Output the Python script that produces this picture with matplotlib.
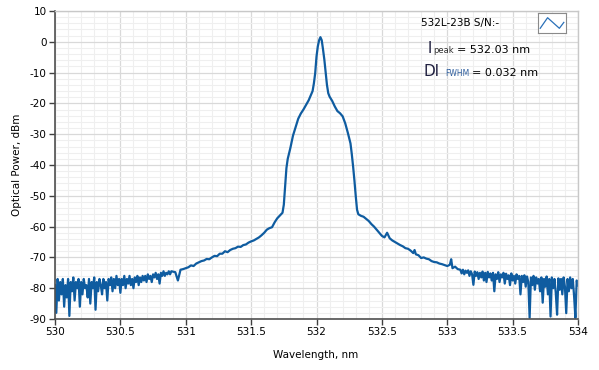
import numpy as np
import matplotlib.pyplot as plt
from matplotlib.ticker import MultipleLocator

plt.rcParams['axes.unicode_minus'] = False

# noisy wings, 0.01 nm step
left_start = 530.00
left_noise = [
    -79, -88, -77, -84, -78, -82, -77, -86, -79, -83,
    -77, -89, -78, -81, -76.5, -84, -78, -80, -77, -86,
    -78, -82, -77, -80, -79, -83, -77, -85, -78, -80,
    -76.5, -87, -78, -81, -77, -79, -82, -77, -80, -78,
    -84, -77, -79, -76.5, -81, -77, -80, -76, -79, -77,
    -81.5, -77, -79, -76, -80, -77, -78.5, -76, -79, -77,
    -80, -76.5, -78, -76, -79, -76.5, -78, -76, -77.5, -76,
    -78, -75.5, -77, -76, -78, -75.5, -76.5, -75, -77, -75.5,
    -78.5, -75, -76, -74.5, -76, -75, -75.5, -74.5, -75.5, -74.5,
    -75,
]

right_start = 533.10
right_noise = [
    -74.0, -75.2, -74.0, -75.5, -74.3, -75.0, -74.2, -76.0, -74.5, -75.5,
    -78.9, -74.6, -76.0, -74.8, -77.0, -75.0, -76.5, -74.6, -77.5, -75.0,
    -78.0, -74.7, -76.5, -75.2, -77.5, -75.0, -81.0, -75.5, -77.0, -74.8,
    -78.0, -75.5, -76.5, -75.0, -78.5, -75.3, -77.0, -75.8, -79.0, -75.2,
    -77.5, -76.0, -78.5, -75.5, -77.0, -76.0, -82.0, -76.0, -78.0, -75.8,
    -79.5, -76.2, -78.0, -89.6, -76.5, -79.0, -76.0, -80.5, -76.5, -78.5,
    -77.0, -81.0, -76.5, -84.7, -77.0, -79.5, -76.2, -82.0, -77.0, -89.2,
    -76.5, -80.0, -77.0, -81.5, -88.6, -76.8, -80.5, -77.0, -82.0, -76.5,
    -79.5, -88.1, -77.0, -81.0, -76.5, -80.0, -77.0, -82.5, -89.6, -77.5,
    -79.0,
]

# central part (wavelength, power)
center_wl = [
    530.92, 530.94, 530.96, 530.98, 531.00, 531.02, 531.04, 531.06, 531.08, 531.10,
    531.12, 531.14, 531.16, 531.18, 531.20, 531.22, 531.24, 531.26, 531.28, 531.30,
    531.32, 531.34, 531.36, 531.38, 531.40, 531.42, 531.44, 531.46, 531.48, 531.50,
    531.52, 531.54, 531.56, 531.58, 531.60, 531.62, 531.64, 531.66, 531.68, 531.70,
    531.72, 531.74, 531.75, 531.76, 531.77, 531.78, 531.80, 531.82, 531.84, 531.86,
    531.88, 531.90, 531.92, 531.94, 531.96, 531.97, 531.98, 531.99, 532.00, 532.01,
    532.02, 532.03, 532.04, 532.05, 532.06, 532.07, 532.08, 532.09, 532.10, 532.12,
    532.14, 532.16, 532.18, 532.20, 532.22, 532.24, 532.26, 532.27, 532.28, 532.29,
    532.30, 532.31, 532.32, 532.34, 532.36, 532.38, 532.40, 532.42, 532.44, 532.46,
    532.48, 532.50, 532.52, 532.54, 532.56, 532.58, 532.60, 532.62, 532.64, 532.66,
    532.68, 532.70, 532.72, 532.74, 532.75, 532.76, 532.78, 532.80, 532.82, 532.84,
    532.86, 532.88, 532.90, 532.92, 532.94, 532.96, 532.98, 533.00, 533.02, 533.03,
    533.04, 533.06, 533.08,
]
center_db = [
    -74.8, -77.5, -74.0, -73.8, -73.5, -73.2, -72.6, -72.8, -72.0, -71.6,
    -71.2, -71.0, -70.5, -70.6, -70.0, -69.5, -69.6, -68.8, -68.8, -68.0,
    -68.3, -67.6, -67.2, -67.0, -66.5, -66.6, -66.0, -65.8, -65.2, -64.8,
    -64.5, -64.0, -63.5, -62.8, -62.0, -61.0, -60.5, -60.2, -58.6, -57.3,
    -56.4, -55.5, -52.9, -47.0, -41.0, -38.0, -34.5, -30.5, -27.8, -25.0,
    -23.3, -22.0, -20.5, -19.0, -17.0, -16.0, -13.5, -10.2, -4.8, -1.5,
    0.5, 1.5, 0.5, -2.5, -5.8, -10.0, -14.0, -16.7, -17.8, -19.2,
    -21.0, -22.5, -23.2, -24.2, -26.5, -29.6, -33.0, -36.5, -40.5, -45.0,
    -50.0, -54.5, -56.0, -56.5, -56.8, -57.5, -58.2, -59.2, -60.0, -61.0,
    -62.0, -63.0, -63.5, -62.0, -63.8, -64.5, -65.0, -65.5, -66.0, -66.4,
    -67.0, -67.2, -67.8, -68.6, -67.6, -69.0, -69.3, -70.2, -70.0, -70.4,
    -70.6, -71.2, -71.5, -71.6, -72.0, -72.2, -72.5, -72.8, -72.4, -70.6,
    -73.5, -73.0, -73.8,
]

left_wl = left_start + 0.01 * np.arange(len(left_noise))
right_wl = right_start + 0.01 * np.arange(len(right_noise))
wl = np.concatenate([left_wl[:-1], center_wl, right_wl])
db = np.concatenate([left_noise[:-1], center_db, right_noise])

W, H = 599, 370
fig = plt.figure(figsize=(W / 100, H / 100), dpi=100)
ax = fig.add_axes([55 / W, 1 - 319 / H, (578 - 55) / W, (319 - 11) / H])

ax.plot(wl, db, color='#0f5ca0', lw=1.6)
ax.set_xlim(530, 534)
ax.set_ylim(-90, 10)
ax.xaxis.set_major_locator(MultipleLocator(0.5))
ax.xaxis.set_minor_locator(MultipleLocator(0.1))
ax.yaxis.set_major_locator(MultipleLocator(10))
ax.yaxis.set_minor_locator(MultipleLocator(2))
ax.xaxis.set_major_formatter(plt.FuncFormatter(lambda v, p: '%g' % v))
ax.grid(which='major', color='#d9d9d9', lw=0.9)
ax.grid(which='minor', color='#efefef', lw=0.8)
ax.set_axisbelow(True)
ax.tick_params(which='major', direction='out', length=4, width=1, color='#404040',
               labelsize=7.5, pad=2)
ax.tick_params(which='minor', length=0)
for s in ['left', 'bottom']:
    ax.spines[s].set_color('#505050')
    ax.spines[s].set_linewidth(1.2)
for s in ['top', 'right']:
    ax.spines[s].set_color('#c8c8c8')
    ax.spines[s].set_linewidth(1)

fig.text(316 / W, 1 - 355 / H, 'Wavelength, nm', ha='center', va='center', fontsize=7.5)
fig.text(17 / W, 1 - 165 / H, 'Optical Power, dBm', ha='center', va='center',
         rotation=90, fontsize=7.5)

# legend style annotations
fig.text(421 / W, 1 - 23 / H, '532L-23B S/N:-', ha='left', va='center', fontsize=7.5)
fig.text(428 / W, 1 - 53 / H, 'l', ha='left', va='baseline', fontsize=11, color='#202040')
fig.text(433 / W, 1 - 53 / H, 'peak', ha='left', va='baseline', fontsize=6, color='#303030')
fig.text(457 / W, 1 - 53 / H, '= 532.03 nm', ha='left', va='baseline', fontsize=8)
fig.text(424 / W, 1 - 76 / H, 'Dl', ha='left', va='baseline', fontsize=11, color='#202040')
fig.text(445 / W, 1 - 76 / H, 'FWHM', ha='left', va='baseline', fontsize=5.5, color='#3060a0')
fig.text(472 / W, 1 - 76 / H, '= 0.032 nm', ha='left', va='baseline', fontsize=8)

box = fig.add_axes([538 / W, 1 - 33 / H, 28 / W, 20 / H])
box.plot([0, 1, 2.6, 3.2], [0.8, 2.6, 0.8, 1.8], color='#2a70b8', lw=0.9)
box.set_xlim(-0.3, 3.5)
box.set_ylim(0, 3.4)
box.set_xticks([])
box.set_yticks([])
for s in box.spines.values():
    s.set_color('#8a8a8a')
    s.set_linewidth(0.8)

fig.savefig('out.png', dpi=100)
